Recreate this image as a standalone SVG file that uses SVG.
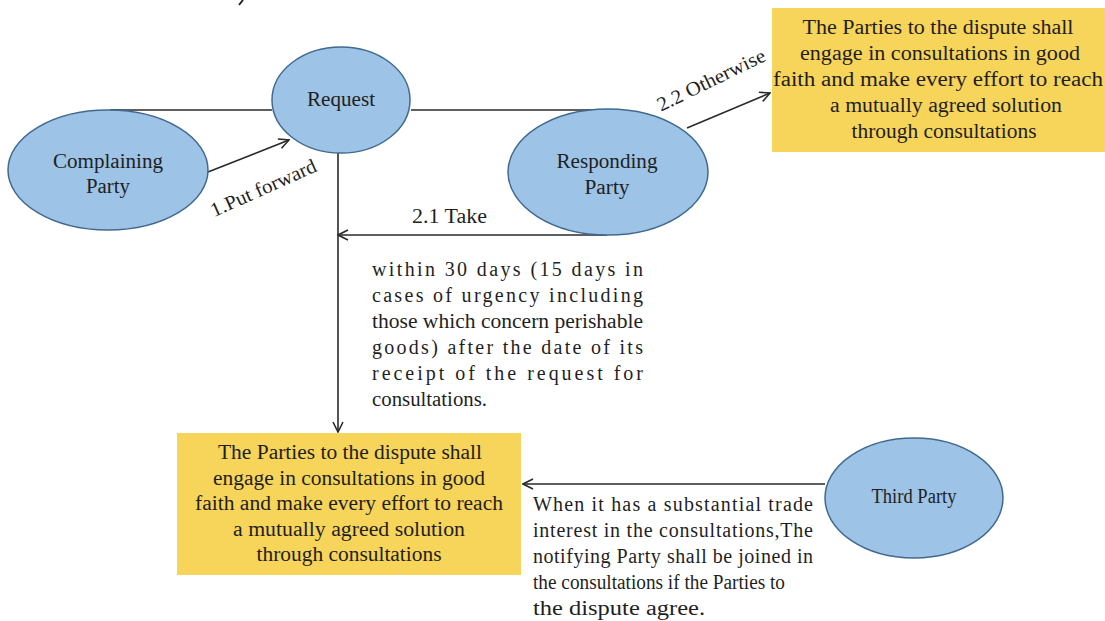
<svg xmlns="http://www.w3.org/2000/svg" width="1105" height="621" viewBox="0 0 1105 621" font-family="'Liberation Serif', serif">
<style>
.node{fill:#9DC3E6;stroke:#41698F;stroke-width:1.5}
.box{fill:#F7D45A}
text{font-family:'Liberation Serif',serif;font-size:20px;fill:#1f1f1f}
.c{text-anchor:middle}
.con{stroke:#2a2a2a;stroke-width:1.6;fill:none}
</style>
<defs>
<marker id="ah" viewBox="0 0 12 12" refX="11" refY="6" markerWidth="12" markerHeight="12" markerUnits="userSpaceOnUse" orient="auto">
<path d="M1,1 L11,6 L1,11" fill="none" stroke="#2a2a2a" stroke-width="1.6"/>
</marker>
</defs>
<rect width="1105" height="621" fill="#ffffff"/>
<path d="M243,0 L239,5" stroke="#222" stroke-width="2"/>
<g id="connectors">
<line class="con" x1="110" y1="110" x2="272" y2="110"/>
<line class="con" x1="411" y1="110" x2="607" y2="110"/>
<line class="con" x1="208" y1="172" x2="289" y2="140" marker-end="url(#ah)"/>
<line class="con" x1="338" y1="153" x2="338" y2="432" marker-end="url(#ah)"/>
<line class="con" x1="607" y1="235" x2="338" y2="235" marker-end="url(#ah)"/>
<line class="con" x1="687" y1="128" x2="770" y2="93" marker-end="url(#ah)"/>
<line class="con" x1="825" y1="484" x2="523" y2="484" marker-end="url(#ah)"/>
<text class="c" transform="translate(266,194) rotate(-24)" textLength="114" lengthAdjust="spacingAndGlyphs">1.Put forward</text>
<text x="412" y="223" textLength="75" lengthAdjust="spacingAndGlyphs">2.1 Take</text>
<text class="c" transform="translate(714,86) rotate(-26)" textLength="118" lengthAdjust="spacingAndGlyphs">2.2 Otherwise</text>
</g>
<g id="complaining">
<ellipse class="node" cx="108" cy="170" rx="100" ry="60"/>
<text class="c" x="108" y="168" textLength="110" lengthAdjust="spacingAndGlyphs">Complaining</text>
<text class="c" x="108" y="193" textLength="44" lengthAdjust="spacingAndGlyphs">Party</text>
</g>
<g id="request">
<ellipse class="node" cx="341" cy="100" rx="69" ry="53"/>
<text class="c" x="341" y="106" textLength="68" lengthAdjust="spacingAndGlyphs">Request</text>
</g>
<g id="responding">
<ellipse class="node" cx="608" cy="172" rx="100" ry="63"/>
<text class="c" x="607" y="168" textLength="101" lengthAdjust="spacingAndGlyphs">Responding</text>
<text class="c" x="607" y="194" textLength="45" lengthAdjust="spacingAndGlyphs">Party</text>
</g>
<g id="third">
<ellipse class="node" cx="914" cy="498" rx="89" ry="60"/>
<text class="c" x="914" y="503" textLength="85" lengthAdjust="spacingAndGlyphs">Third Party</text>
</g>
<g id="box-top">
<rect class="box" x="772" y="8" width="333" height="144"/>
<text class="c" x="938" y="34" textLength="271" lengthAdjust="spacingAndGlyphs">The Parties to the dispute shall</text>
<text class="c" x="940" y="60" textLength="280" lengthAdjust="spacingAndGlyphs">engage in consultations in good</text>
<text class="c" x="938" y="86" textLength="330" lengthAdjust="spacingAndGlyphs">faith and make every effort to reach</text>
<text class="c" x="946" y="112" textLength="232" lengthAdjust="spacingAndGlyphs">a mutually agreed solution</text>
<text class="c" x="944" y="138" textLength="185" lengthAdjust="spacingAndGlyphs">through consultations</text>
</g>
<g id="box-bottom">
<rect class="box" x="177" y="433" width="344" height="142"/>
<text class="c" x="350" y="459" textLength="264" lengthAdjust="spacingAndGlyphs">The Parties to the dispute shall</text>
<text class="c" x="349" y="485" textLength="272" lengthAdjust="spacingAndGlyphs">engage in consultations in good</text>
<text class="c" x="349" y="510" textLength="308" lengthAdjust="spacingAndGlyphs">faith and make every effort to reach</text>
<text class="c" x="349" y="536" textLength="232" lengthAdjust="spacingAndGlyphs">a mutually agreed solution</text>
<text class="c" x="349" y="561" textLength="185" lengthAdjust="spacingAndGlyphs">through consultations</text>
</g>
<g id="note-time">
<text x="372" y="276" textLength="271" lengthAdjust="spacing">within 30 days (15 days in</text>
<text x="372" y="302" textLength="271" lengthAdjust="spacing">cases of urgency including</text>
<text x="372" y="328" textLength="271" lengthAdjust="spacingAndGlyphs">those which concern perishable</text>
<text x="372" y="354" textLength="271" lengthAdjust="spacing">goods) after the date of its</text>
<text x="372" y="380" textLength="271" lengthAdjust="spacing">receipt of the request for</text>
<text x="372" y="406" textLength="115" lengthAdjust="spacingAndGlyphs">consultations.</text>
</g>
<g id="note-third">
<text x="533" y="511" textLength="280" lengthAdjust="spacing">When it has a substantial trade</text>
<text x="533" y="537" textLength="280" lengthAdjust="spacing">interest in the consultations,The</text>
<text x="533" y="563" textLength="280" lengthAdjust="spacing">notifying Party shall be joined in</text>
<text x="533" y="589" textLength="252" lengthAdjust="spacingAndGlyphs">the consultations if the Parties to</text>
<text x="533" y="615" textLength="172" lengthAdjust="spacingAndGlyphs">the dispute agree.</text>
</g>
</svg>
